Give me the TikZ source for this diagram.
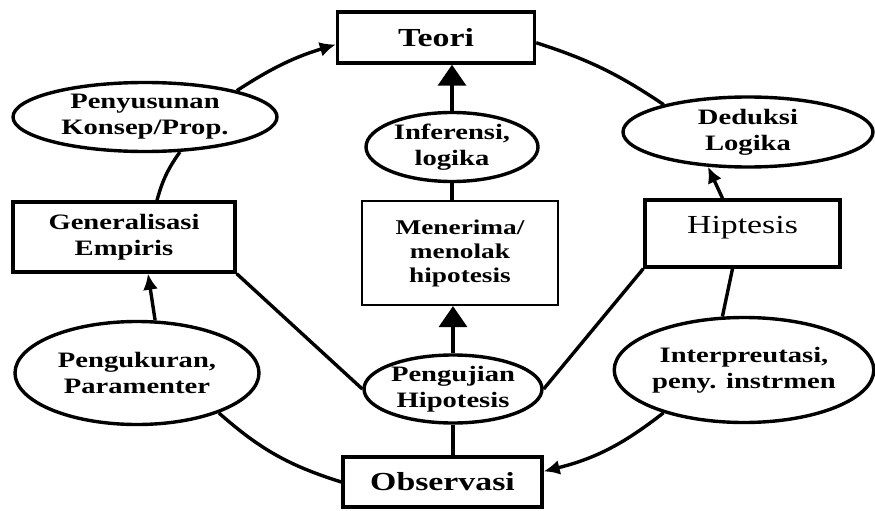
\documentclass[tikz,border=0pt]{standalone}
\usepackage{fontspec}
\setmainfont[FakeStretch=1.3]{Liberation Serif}
\usetikzlibrary{shapes.geometric,arrows.meta}
\begin{document}
\begin{tikzpicture}[x=1pt,y=-1pt,
  box/.style={draw, line width=3.4pt, rectangle, inner sep=0pt, align=center,
    font=\fontsize{22}{26}\selectfont\bfseries},
  oval/.style={draw, line width=3.4pt, ellipse, inner sep=0pt, align=center,
    font=\fontsize{22}{26}\selectfont\bfseries},
  link/.style={line width=3.4pt},
  tip/.style={-{Latex[length=16pt,width=15pt]}},
  bigtip/.style={-{Triangle[length=21pt,width=28pt]}},
]
\fill[white] (0,0) rectangle (875,511);
\useasboundingbox (0,0) rectangle (875,511);

% nodes
\node[box, minimum width=197pt, minimum height=51pt, font=\fontsize{26}{30}\selectfont\bfseries] (teori) at (436,37.5) {Teori};
\node[oval, minimum width=264pt, minimum height=69pt] (pen) at (145,117) {Penyusunan\\Konsep/Prop.};
\node[box, minimum width=222pt, minimum height=70pt] (gen) at (124,237) {Generalisasi\\Empiris};
\node[oval, minimum width=172pt, minimum height=69pt] (inf) at (452,147) {Inferensi,\\logika};
\node[box, line width=2.2pt, minimum width=196pt, minimum height=104pt, font=\fontsize{21}{24}\selectfont\bfseries] (men) at (460,253) {Menerima/\\menolak\\hipotesis};
\node[oval, minimum width=250pt, minimum height=70pt] (ded) at (748,132) {Deduksi\\Logika};
\node[box, minimum width=195pt, minimum height=67pt, text height=18pt, text depth=18pt, font=\fontsize{26}{30}\selectfont] (hip) at (742.5,233.5) {Hiptesis};
\node[oval, minimum width=178pt, minimum height=68pt] (peng) at (453,389) {Pengujian\\Hipotesis};
\node[oval, minimum width=244pt, minimum height=103pt] (penguk) at (137,373) {Pengukuran,\\Paramenter};
\node[oval, minimum width=242pt, minimum height=105pt] (interp) at (744,370) {Interpreutasi,\\peny. instrmen};
\node[box, minimum width=199pt, minimum height=50pt, font=\fontsize{26}{30}\selectfont\bfseries] (obs) at (442.5,482) {Observasi};

% connectors
\draw[link, tip] (pen.16) to[bend left=8] (teori.184);
\draw[link] (teori.-3) to[bend left=8] (ded.162);
\draw[link, tip] ([xshift=-20pt]hip.north) -- (ded.221);
\draw[link] ([xshift=-10pt]hip.south) -- (interp.112);
\draw[link, tip] (interp.208) to[bend left=12] (obs.6);
\draw[link] (penguk.-26) to[bend right=12] (obs.west);
\draw[link, tip] (penguk.71) -- ([xshift=24pt]gen.south);
\draw[link] ([xshift=33pt]gen.north) to[bend left=10] (pen.-45);
\draw[link] (gen.south east) -- (peng.west);
\draw[link] (hip.south west) -- (peng.east);
\draw[link, bigtip] (inf.north) -- (inf.north |- teori.south);
\draw[link] (inf.south) -- (inf.south |- men.north);
\draw[link, bigtip] (peng.north) -- (peng.north |- men.south);
\draw[link] (peng.south) -- (peng.south |- obs.north);
\end{tikzpicture}
\end{document}
